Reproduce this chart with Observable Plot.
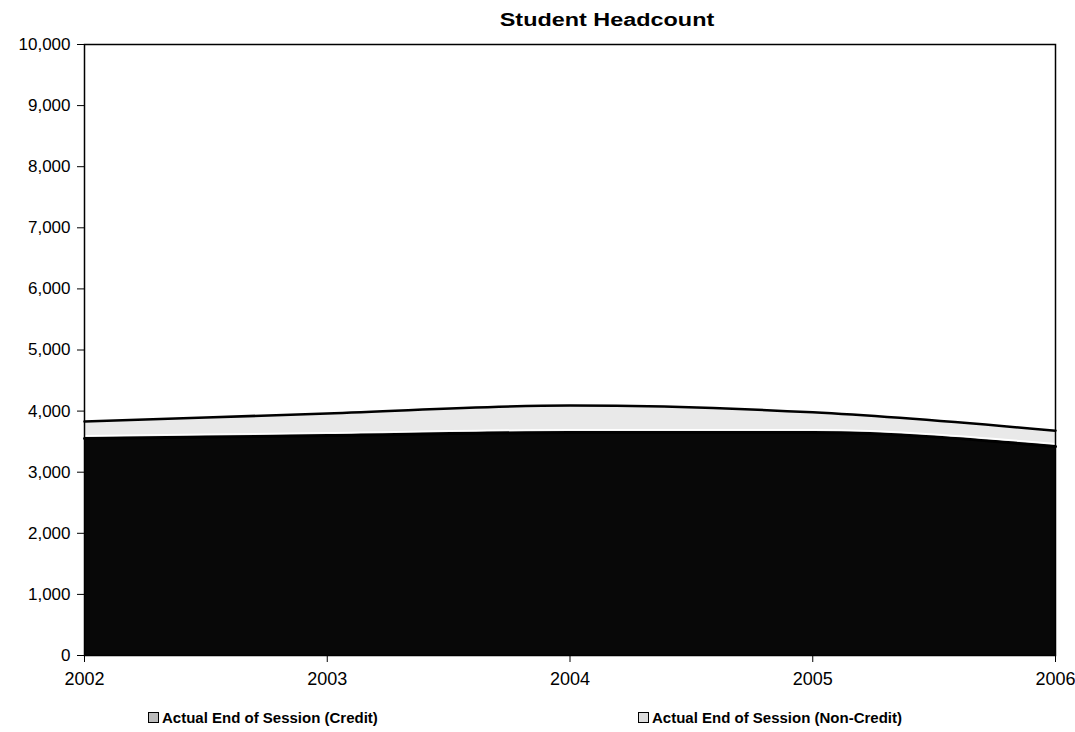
<!DOCTYPE html>
<html><head><meta charset="utf-8">
<script src="https://cdn.jsdelivr.net/npm/d3@7"></script>
<script src="https://cdn.jsdelivr.net/npm/@observablehq/plot@0.6"></script>
<style>
body{margin:0;background:#fff;font-family:"Liberation Sans",Arial,sans-serif;}
#title{height:36px;position:relative;}
#title span{position:absolute;left:607px;top:10px;transform:translateX(-50%) scaleX(1.3);font-weight:bold;font-size:18px;white-space:nowrap;}
#legend{position:relative;height:40px;font-weight:bold;font-size:15px;}
.item{position:absolute;top:13px;display:flex;align-items:center;}
.sw{width:9px;height:9px;border:1.5px solid #000;margin-right:3px;}
</style></head><body>
<div id="title"><span>Student Headcount</span></div>
<div id="chart"></div>
<div id="legend"></div>
<script>
const years = [2002, 2003, 2004, 2005, 2006];
const credit = [3550, 3600, 3650, 3650, 3420];
const nonCredit = [280, 360, 440, 330, 260];
const seriesNames = ["Actual End of Session (Credit)", "Actual End of Session (Non-Credit)"];
const yTicks = d3.range(0, 10001, 1000);

const rows = [];
years.forEach((y, i) => {
  rows.push({year: y, series: seriesNames[0], value: credit[i]});
  rows.push({year: y, series: seriesNames[1], value: nonCredit[i]});
});
const totals = years.map((y, i) => ({year: y, v: credit[i] + nonCredit[i]}));
const credTop = years.map((y, i) => ({year: y, v: credit[i]}));

const chart = Plot.plot({
  width: 1075, height: 660,
  marginLeft: 84, marginRight: 20, marginTop: 8, marginBottom: 41,
  style: {fontFamily: "'Liberation Sans', Arial, sans-serif", color: "#000", background: "#fff"},
  x: {domain: [2002, 2006], label: null},
  y: {domain: [0, 10000], label: null},
  color: {domain: seriesNames, range: ["#080808", "#e9e9e9"]},
  marks: [
    Plot.areaY(rows, Plot.stackY({x: "year", y: "value", fill: "series", curve: "monotone-x", order: seriesNames})),
    Plot.line(credTop, {x: "year", y: "v", stroke: "#000", strokeWidth: 3, curve: "monotone-x"}),
    Plot.line(credTop, {x: "year", y: d => d.v + 45, stroke: "#fff", strokeWidth: 1.5, curve: "monotone-x"}),
    Plot.line(totals, {x: "year", y: "v", stroke: "#000", strokeWidth: 2.5, curve: "monotone-x"}),
    Plot.frame({stroke: "#000", strokeWidth: 1.5}),
    Plot.axisY({ticks: yTicks, tickFormat: d3.format(","), tickSize: 7, tickPadding: 7, fontSize: 17, label: null}),
    Plot.axisX({ticks: years, tickFormat: d => String(d), tickSize: 7, tickPadding: 10, fontSize: 18, label: null})
  ]
});
document.getElementById("chart").appendChild(chart);

const leg = document.getElementById("legend");
const pos = [148, 638];
seriesNames.forEach((n, i) => {
  const d = document.createElement("div");
  d.className = "item";
  d.style.left = pos[i] + "px";
  const sw = document.createElement("div");
  sw.className = "sw";
  sw.style.background = i === 0 ? "#bbb" : "#ddd";
  d.appendChild(sw);
  const t = document.createElement("span");
  t.textContent = n;
  d.appendChild(t);
  leg.appendChild(d);
});
</script>
</body></html>
